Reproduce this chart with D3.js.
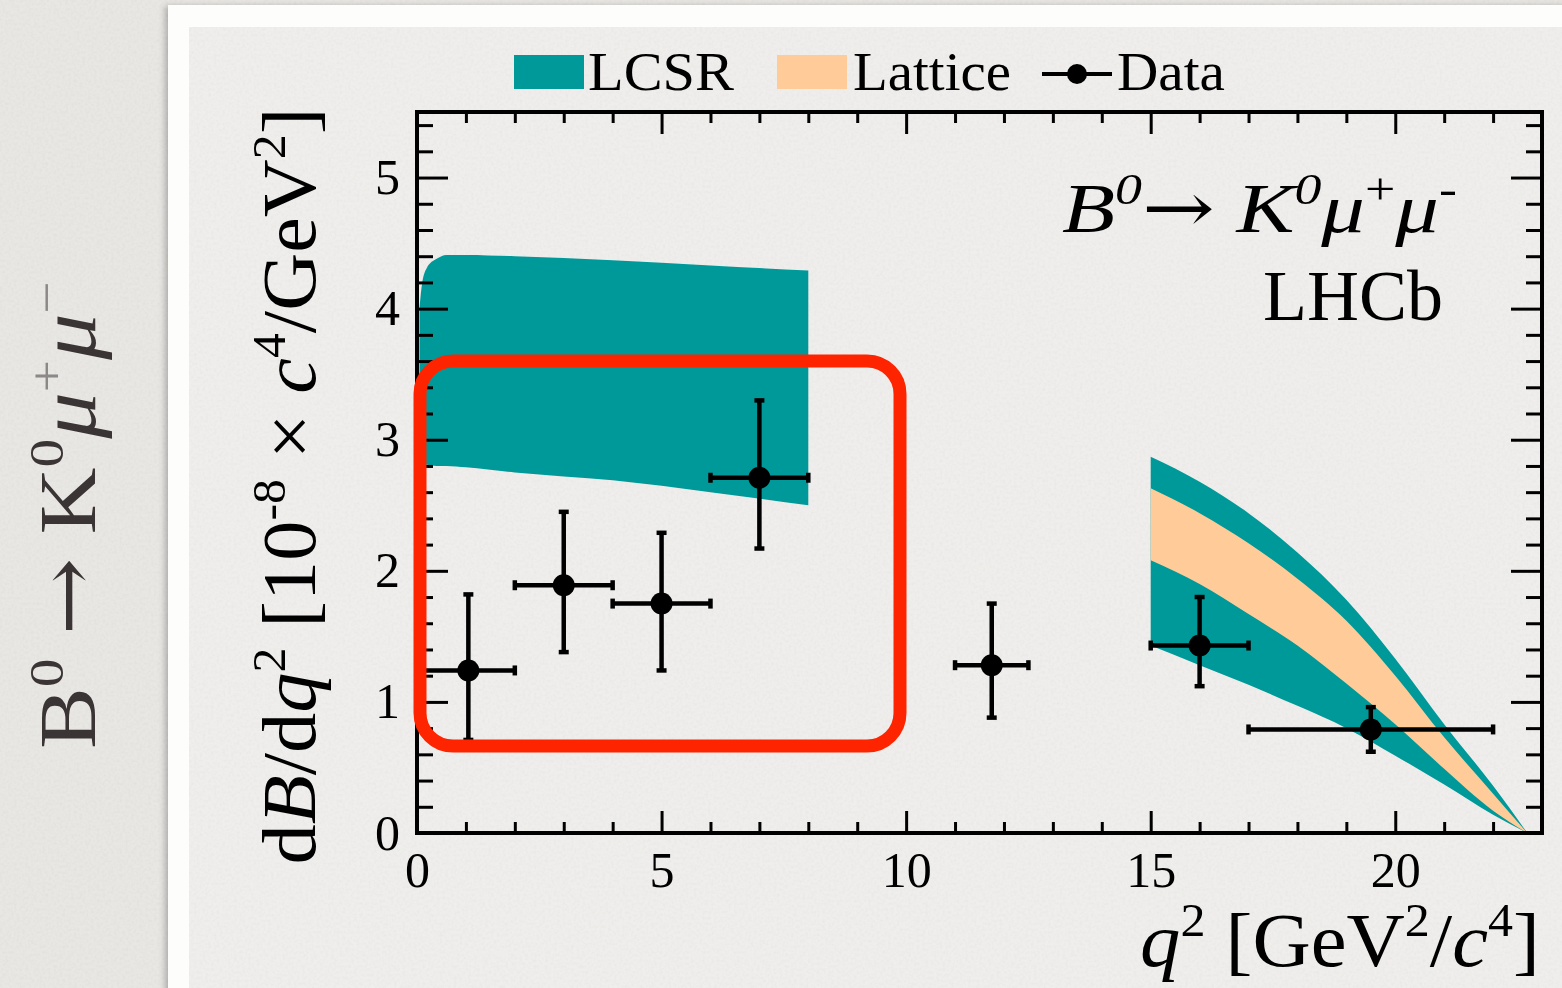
<!DOCTYPE html>
<html>
<head>
<meta charset="utf-8">
<script src="https://cdn.jsdelivr.net/npm/d3@7"></script>
<style>
  html, body { margin: 0; padding: 0; background: #e7e6e3; }
  svg { display: block; }
</style>
</head>
<body>
<script>
// ---- data -------------------------------------------------------------
// measured differential branching fraction, 10^-8 c^4/GeV^2
const binLo  = [0.1, 2, 4, 6, 11, 15, 17];
const binHi  = [2, 4, 6, 8, 12.5, 17, 22];
const dataQ2 = [1.05, 3.0, 5.0, 7.0, 11.75, 16.0, 19.5];
const dataY  = [1.24, 1.89, 1.75, 2.71, 1.28, 1.43, 0.79];
const errUp  = [0.58, 0.56, 0.54, 0.59, 0.47, 0.37, 0.17];
const errDn  = [0.53, 0.51, 0.51, 0.54, 0.40, 0.31, 0.17];

// LCSR prediction, low q2 region
const lcsrLowQ2 = [0.05, 0.1, 0.2, 0.4, 0.6, 1, 2, 4, 6, 8];
const lcsrLowHi = [4.00, 4.18, 4.31, 4.38, 4.41, 4.41, 4.40, 4.37, 4.33, 4.29];
const lcsrLowLo = [2.81, 2.81, 2.81, 2.80, 2.80, 2.79, 2.75, 2.69, 2.60, 2.50];

// LCSR and lattice predictions, high q2 region
const highQ2     = [15, 16, 17, 18, 19, 20, 21, 22, 22.7];
const lcsrHighHi = [2.87, 2.68, 2.44, 2.14, 1.78, 1.33, 0.83, 0.36, 0];
const lcsrHighLo = [1.43, 1.28, 1.13, 0.97, 0.80, 0.59, 0.37, 0.14, 0];
const latHi      = [2.63, 2.44, 2.21, 1.94, 1.62, 1.20, 0.73, 0.30, 0];
const latLo      = [2.08, 1.90, 1.67, 1.43, 1.14, 0.83, 0.49, 0.17, 0];

const xMajor = [0, 5, 10, 15, 20];
const yMajor = [0, 1, 2, 3, 4, 5];
const legendLabels = ["LCSR", "Lattice", "Data"];

// ---- setup ------------------------------------------------------------
const W = 1562, H = 988;
const SERIF = "'Liberation Serif','Times New Roman',Times,serif";
const ARROW_FONT = "'DejaVu Serif',serif";
const TEAL = "#009999", PEACH = "#ffcc99";

const svg = d3.select("body").append("svg").attr("width", W).attr("height", H);

// slide background, white photo border and plot canvas
const defs = svg.append("defs");
const sh = defs.append("filter").attr("id", "shadow").attr("x", "-5%").attr("y", "-5%").attr("width", "110%").attr("height", "110%");
sh.append("feDropShadow").attr("dx", -3).attr("dy", 1).attr("stdDeviation", 3).attr("flood-color", "#000").attr("flood-opacity", 0.25);

// paper grain
const grain = defs.append("filter").attr("id", "grain").attr("x", 0).attr("y", 0).attr("width", "100%").attr("height", "100%");
grain.append("feTurbulence").attr("type", "fractalNoise").attr("baseFrequency", 0.35).attr("numOctaves", 3).attr("seed", 7).attr("result", "n");
grain.append("feColorMatrix").attr("in", "n").attr("type", "matrix")
  .attr("values", "0 0 0 0 0.45  0 0 0 0 0.44  0 0 0 0 0.42  0 0 0 -1.2 0.75");

svg.append("rect").attr("width", W).attr("height", H).attr("fill", "#e8e7e4");
svg.append("rect").attr("width", W).attr("height", H).attr("filter", "url(#grain)").attr("opacity", 0.18);
svg.append("rect").attr("x", 168).attr("y", 5).attr("width", W - 168 + 20).attr("height", H).attr("fill", "#fdfdfc").attr("filter", "url(#shadow)");
svg.append("rect").attr("x", 189).attr("y", 27).attr("width", W - 189).attr("height", H - 27).attr("fill", "#efeeec");
svg.append("rect").attr("x", 189).attr("y", 27).attr("width", W - 189).attr("height", H - 27).attr("filter", "url(#grain)").attr("opacity", 0.15);

// scales
const x = d3.scaleLinear().domain([0, 23]).range([417, 1542]);
const y = d3.scaleLinear().domain([0, 5.5]).range([833, 112]);

// rich text helper: parts = [{t, i, sup, font}]
function rich(parent, parts, size, opts = {}) {
  const g = parent.append("g").attr("transform", opts.transform || "");
  const t = g.append("text")
    .attr("font-family", SERIF)
    .attr("font-size", size)
    .attr("fill", opts.fill || "#000")
    .attr("text-anchor", opts.anchor || "start");
  let shifted = 0;
  parts.forEach(p => {
    const ts = t.append("tspan").text(p.t);
    if (p.i) ts.attr("font-style", "italic");
    if (p.fill) ts.attr("fill", p.fill);
    if (p.font) ts.attr("font-family", p.font);
    const target = p.sup ? -0.40 * size : 0;
    ts.attr("dy", target - shifted);
    shifted = target;
    if (p.sup) ts.attr("font-size", size * 0.62);
  });
  if (opts.width) {
    const w = t.node().getComputedTextLength();
    t.attr("transform", `scale(${opts.width / w},1)`);
  }
  return g;
}

// ---- bands ------------------------------------------------------------
const areaLow  = d3.area().x(d => x(d.q)).y0(d => y(d.lo)).y1(d => y(d.hi)).curve(d3.curveMonotoneX);
const areaHigh = d3.area().x(d => x(d.q)).y0(d => y(d.lo)).y1(d => y(d.hi)).curve(d3.curveMonotoneX);
const lowBand  = lcsrLowQ2.map((q, i) => ({ q, lo: lcsrLowLo[i], hi: lcsrLowHi[i] }));
const highBand = highQ2.map((q, i) => ({ q, lo: lcsrHighLo[i], hi: lcsrHighHi[i] }));
const latBand  = highQ2.map((q, i) => ({ q, lo: latLo[i], hi: latHi[i] }));

svg.append("path").datum(lowBand).attr("d", areaLow).attr("fill", TEAL);
svg.append("path").datum(highBand).attr("d", areaHigh).attr("fill", TEAL);
svg.append("path").datum(latBand).attr("d", areaHigh).attr("fill", PEACH);

// ---- axes -------------------------------------------------------------
function styleAxis(g, width) {
  g.select(".domain").remove();
  g.selectAll(".tick line").attr("stroke", "#000").attr("stroke-width", width);
  g.selectAll(".tick text").attr("font-family", SERIF).attr("font-size", 50).attr("fill", "#000");
}
const xMinor = d3.range(0, 24).filter(v => v % 5 !== 0);
const yMinor = d3.range(0, 5.51, 0.2).map(v => +v.toFixed(1)).filter(v => Math.abs(v - Math.round(v)) > 1e-6);

svg.append("g").attr("transform", `translate(0,${y(0)})`)
  .call(d3.axisBottom(x).tickValues(xMajor).tickSize(-22).tickPadding(18).tickFormat(d3.format("d")))
  .call(g => styleAxis(g, 3));
svg.append("g").attr("transform", `translate(0,${y(0)})`)
  .call(d3.axisBottom(x).tickValues(xMinor).tickSize(-11).tickFormat(""))
  .call(g => styleAxis(g, 3));
svg.append("g").attr("transform", `translate(0,${y(5.5)})`)
  .call(d3.axisTop(x).tickValues(xMajor).tickSize(-22).tickFormat(""))
  .call(g => styleAxis(g, 3));
svg.append("g").attr("transform", `translate(0,${y(5.5)})`)
  .call(d3.axisTop(x).tickValues(xMinor).tickSize(-11).tickFormat(""))
  .call(g => styleAxis(g, 3));
svg.append("g").attr("transform", `translate(${x(0)},0)`)
  .call(d3.axisLeft(y).tickValues(yMajor).tickSize(-31).tickPadding(17).tickFormat(d3.format("d")))
  .call(g => styleAxis(g, 3));
svg.append("g").attr("transform", `translate(${x(0)},0)`)
  .call(d3.axisLeft(y).tickValues(yMinor).tickSize(-16).tickFormat(""))
  .call(g => styleAxis(g, 3));
svg.append("g").attr("transform", `translate(${x(23)},0)`)
  .call(d3.axisRight(y).tickValues(yMajor).tickSize(-31).tickFormat(""))
  .call(g => styleAxis(g, 3));
svg.append("g").attr("transform", `translate(${x(23)},0)`)
  .call(d3.axisRight(y).tickValues(yMinor).tickSize(-16).tickFormat(""))
  .call(g => styleAxis(g, 3));

// frame
svg.append("rect")
  .attr("x", x(0)).attr("y", y(5.5))
  .attr("width", x(23) - x(0)).attr("height", y(0) - y(5.5))
  .attr("fill", "none").attr("stroke", "#000").attr("stroke-width", 4);

// ---- data points --------------------------------------------------------
const pts = dataQ2.map((q, i) => ({ q, v: dataY[i], lo: binLo[i], hi: binHi[i], up: errUp[i], dn: errDn[i] }));
const pg = svg.append("g").attr("stroke", "#000").attr("stroke-width", 4.5);
const cap = 5;
pts.forEach(d => {
  const cx = x(d.q), cy = y(d.v);
  pg.append("line").attr("x1", x(d.lo)).attr("x2", x(d.hi)).attr("y1", cy).attr("y2", cy);
  pg.append("line").attr("x1", cx).attr("x2", cx).attr("y1", y(d.v + d.up)).attr("y2", y(d.v - d.dn));
  // end caps
  pg.append("line").attr("x1", x(d.lo)).attr("x2", x(d.lo)).attr("y1", cy - cap).attr("y2", cy + cap);
  pg.append("line").attr("x1", x(d.hi)).attr("x2", x(d.hi)).attr("y1", cy - cap).attr("y2", cy + cap);
  pg.append("line").attr("x1", cx - cap).attr("x2", cx + cap).attr("y1", y(d.v + d.up)).attr("y2", y(d.v + d.up));
  pg.append("line").attr("x1", cx - cap).attr("x2", cx + cap).attr("y1", y(d.v - d.dn)).attr("y2", y(d.v - d.dn));
  pg.append("circle").attr("cx", cx).attr("cy", cy).attr("r", 11).attr("fill", "#000").attr("stroke", "none");
});

// ---- legend -------------------------------------------------------------
const lg = svg.append("g");
lg.append("rect").attr("x", 514).attr("y", 55).attr("width", 70).attr("height", 34).attr("fill", TEAL);
rich(lg, [{ t: legendLabels[0] }], 54, { transform: "translate(588,90)", width: 146 });
lg.append("rect").attr("x", 777).attr("y", 55).attr("width", 70).attr("height", 34).attr("fill", PEACH);
rich(lg, [{ t: legendLabels[1] }], 54, { transform: "translate(853,90)", width: 158 });
lg.append("line").attr("x1", 1042).attr("x2", 1112).attr("y1", 74).attr("y2", 74).attr("stroke", "#000").attr("stroke-width", 4);
lg.append("circle").attr("cx", 1077).attr("cy", 74).attr("r", 10).attr("fill", "#000");
rich(lg, [{ t: legendLabels[2] }], 54, { transform: "translate(1117,90)", width: 108 });

// ---- annotations ---------------------------------------------------------
rich(svg, [
  { t: "B", i: true }, { t: "0", i: true, sup: true }, { t: "\u2192", font: ARROW_FONT }, { t: " " },
  { t: "K", i: true }, { t: "0", i: true, sup: true },
  { t: "\u03bc", i: true }, { t: "+", sup: true },
  { t: "\u03bc", i: true }, { t: "-", sup: true }
], 70, { transform: "translate(1062,232)", width: 395 });
rich(svg, [{ t: "LHCb" }], 72, { transform: "translate(1443,320)", anchor: "end", width: 180 });

// axis titles
rich(svg, [
  { t: "d" }, { t: "B", i: true }, { t: "/d" }, { t: "q", i: true }, { t: "2", sup: true },
  { t: " [10" }, { t: "-8", sup: true }, { t: " \u00d7 " }, { t: "c", i: true }, { t: "4", sup: true },
  { t: "/GeV" }, { t: "2", sup: true }, { t: "]" }
], 76, { transform: "translate(315,486) rotate(-90)", anchor: "middle", width: 757 });

rich(svg, [
  { t: "q", i: true }, { t: "2", sup: true }, { t: " [GeV" }, { t: "2", sup: true },
  { t: "/" }, { t: "c", i: true }, { t: "4", sup: true }, { t: "]" }
], 76, { transform: "translate(1540,966)", anchor: "end", width: 400 });

// slide caption on the left
rich(svg, [
  { t: "B" }, { t: "0", sup: true }, { t: " " }, { t: "\u2192", font: ARROW_FONT }, { t: " " }, { t: "K" }, { t: "0", sup: true },
  { t: "\u03bc", i: true }, { t: "+", sup: true, fill: "#8c8888" },
  { t: "\u03bc", i: true }, { t: "\u2212", sup: true, fill: "#8c8888" }
], 80, { transform: "translate(95,515) rotate(-90)", anchor: "middle", fill: "#3a3434", width: 468 });

// ---- highlight box ---------------------------------------------------------
svg.append("rect")
  .attr("x", 420).attr("y", 361).attr("width", 480).attr("height", 385)
  .attr("rx", 33).attr("ry", 33)
  .attr("fill", "none").attr("stroke", "#ff2400").attr("stroke-width", 13);
</script>
</body>
</html>
